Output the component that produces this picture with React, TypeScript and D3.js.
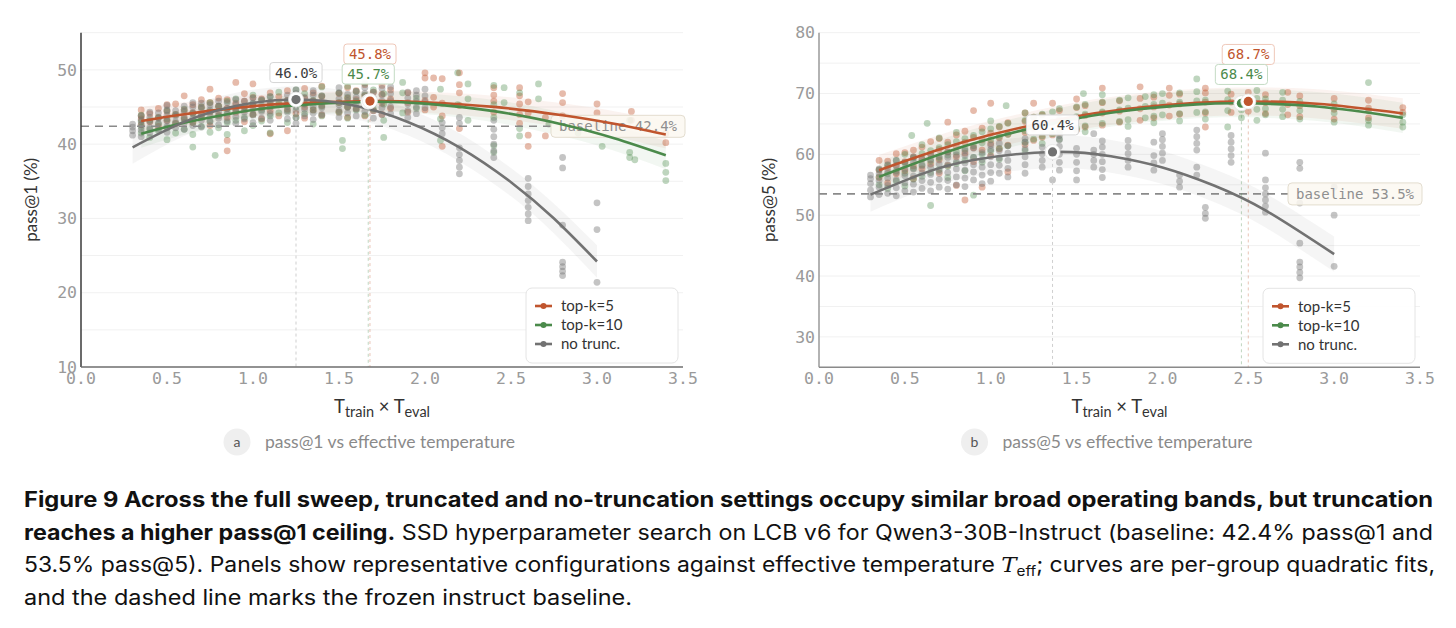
import React from 'react';
import * as d3 from 'd3';

type Column = [number, number[]];
type FitPt = [number, number, number]; // x, fitted value, band half-width

const xTicks = [0, 0.5, 1, 1.5, 2, 2.5, 3, 3.5];
const seriesNames = ['top-k=5', 'top-k=10', 'no trunc.'];
const seriesColors = ['#c0552e', '#4b8a4b', '#727272'];
const labelBorders = ['#efc8b9', '#c4dbc4', '#d6d6d6'];
const labelText = ['#c0552e', '#4b8a4b', '#3d3d3d'];

// ---------- Panel a: pass@1 ----------
const aYTicks = [10, 20, 30, 40, 50];
const aBaseline = 42.4;

const aTopK5: Column[] = [
  [0.35, [42.6, 43.4, 43.8, 44.6]], [0.4, [43.0, 44.1]], [0.45, [42.4, 43.6, 44.8]],
  [0.5, [43.2, 44.4, 45.3]], [0.55, [42.8, 44.0, 45.4]], [0.6, [43.5, 44.6, 46.5]],
  [0.65, [42.9, 44.2, 45.3]], [0.7, [43.8, 45.0, 46.0]], [0.75, [42.5, 44.3, 45.6, 47.4]],
  [0.8, [43.9, 45.1, 46.2]], [0.85, [39.1, 40.5, 43.6, 44.8, 46.0]], [0.9, [44.3, 45.5, 48.3]],
  [0.95, [43.0, 44.6, 45.8, 46.8]], [1.0, [44.0, 45.2, 46.3, 48.1]], [1.05, [43.4, 44.9, 46.1]],
  [1.1, [41.4, 44.5, 45.6, 46.9]], [1.15, [43.8, 45.3, 46.4]], [1.2, [41.8, 44.7, 45.9, 47.2]],
  [1.25, [44.1, 45.4, 46.6]], [1.3, [43.5, 45.0, 46.2, 47.5]], [1.35, [44.6, 45.8, 46.9]],
  [1.4, [43.9, 45.2, 46.4, 47.8]], [1.5, [44.3, 45.6, 46.8]], [1.55, [43.6, 45.0, 46.2, 47.6]],
  [1.6, [44.8, 46.0, 47.2]], [1.65, [43.8, 45.3, 46.5, 48.0]], [1.7, [44.5, 45.8, 47.0]],
  [1.75, [44.0, 45.5, 46.7, 47.9]], [1.8, [44.8, 46.1, 47.3]], [1.9, [44.3, 45.6, 46.9]],
  [2.0, [44.6, 45.9, 48.9, 49.6]], [2.05, [45.0, 46.3, 48.9]], [2.1, [39.7, 43.8, 45.5, 48.8]],
  [2.2, [42.1, 45.2, 46.9, 48.0, 49.6]], [2.4, [44.3, 45.8, 46.6, 47.6]],
  [2.55, [42.8, 44.0, 45.4, 46.5, 47.6]], [2.6, [39.7, 41.2, 44.2, 45.7]], [2.7, [41.1, 43.6]],
  [2.8, [43.8, 45.6, 46.8]], [3.0, [42.5, 44.2, 45.4]], [3.2, [43.2, 44.4]], [3.4, [40.2, 41.4]],
];

const aTopK10: Column[] = [
  [0.35, [41.5, 42.3, 43.0, 43.9]], [0.4, [40.9, 42.0, 43.2]], [0.45, [41.8, 42.7, 43.6]],
  [0.5, [40.6, 42.2, 43.4, 44.5]], [0.55, [41.5, 42.8, 44.0]], [0.6, [42.0, 43.3, 44.7]],
  [0.65, [39.6, 41.3, 42.9, 44.1]], [0.7, [42.4, 43.6, 45.0]], [0.75, [41.6, 43.1, 44.4, 45.6]],
  [0.78, [38.5]], [0.8, [42.2, 43.8, 45.1]], [0.85, [41.3, 42.9, 44.4, 45.8]],
  [0.9, [43.2, 44.7, 46.1]], [0.95, [41.8, 43.6, 45.0]], [1.0, [42.5, 44.0, 45.4, 46.6]],
  [1.05, [43.1, 44.6, 45.9]], [1.1, [41.5, 43.8, 45.2, 46.4]], [1.15, [44.2, 45.5, 47.0]],
  [1.2, [42.9, 44.5, 45.8]], [1.25, [43.6, 45.0, 46.3, 47.3]], [1.3, [44.1, 45.4, 46.8]],
  [1.35, [42.7, 44.6, 45.9]], [1.4, [43.8, 45.1, 46.5, 47.7]], [1.5, [44.3, 45.6, 46.9]],
  [1.52, [39.4, 40.5]], [1.55, [43.5, 45.0, 46.3, 47.8]], [1.6, [44.6, 45.8, 47.1]],
  [1.65, [43.9, 45.3, 46.6, 48.2]], [1.7, [44.7, 46.0, 47.3]], [1.76, [40.9, 43.2, 45.4, 46.8]],
  [1.87, [44.2, 46.9, 48.3]], [1.95, [44.8, 46.2]], [2.09, [40.5, 43.4, 47.4]],
  [2.19, [45.3, 49.6]], [2.25, [43.2, 46.1, 48.1]], [2.4, [38.9, 39.8, 43.6, 45.3, 47.9]],
  [2.46, [45.6, 47.6]], [2.55, [41.1, 42.1, 46.9]], [2.66, [46.1, 48.1]], [2.72, [42.7]],
  [2.89, [41.5]], [3.03, [39.7]], [3.19, [38.2, 38.9, 43.2]], [3.22, [37.9]],
  [3.4, [35.1, 36.2, 37.4]],
];

const aNoTrunc: Column[] = [
  [0.3, [41.2, 41.8, 42.3, 42.7]], [0.35, [41.0, 41.9, 42.6, 43.2, 43.8]],
  [0.4, [41.5, 42.2, 43.0, 43.6, 44.3]], [0.45, [42.0, 42.8, 43.5, 44.2]],
  [0.5, [41.6, 42.4, 43.1, 43.9, 44.6, 45.2]], [0.55, [42.2, 43.0, 43.8, 44.5]],
  [0.6, [42.0, 42.9, 43.6, 44.4, 45.1]], [0.65, [42.5, 43.4, 44.2, 45.0, 45.6]],
  [0.7, [42.3, 43.2, 44.0, 44.8, 45.5]], [0.75, [43.0, 43.8, 44.6, 45.3]],
  [0.8, [42.6, 43.5, 44.3, 45.1, 45.8]], [0.85, [43.1, 44.0, 44.8, 45.6]],
  [0.9, [42.8, 43.7, 44.5, 45.3, 46.0]], [0.95, [43.4, 44.3, 45.1, 45.8]],
  [1.0, [42.9, 43.9, 44.7, 45.5, 46.2]], [1.05, [43.5, 44.4, 45.2, 46.0]],
  [1.1, [43.2, 44.1, 45.0, 45.7, 46.4]], [1.2, [43.4, 44.3, 45.1, 45.9, 46.6]],
  [1.25, [42.8, 43.6, 44.5, 45.3, 46.1, 46.8, 47.3]], [1.3, [43.8, 44.7, 45.5, 46.3]],
  [1.35, [43.3, 44.2, 45.0, 45.8, 46.6, 47.2]], [1.4, [44.0, 44.9, 45.7, 46.5]],
  [1.5, [43.6, 44.5, 45.3, 46.1, 46.9, 47.6]], [1.55, [44.2, 45.0, 45.9, 46.7]],
  [1.6, [43.8, 44.7, 45.5, 46.3, 47.1]], [1.65, [44.4, 45.2, 46.0, 46.8, 47.6]],
  [1.7, [43.5, 44.5, 45.4, 46.2, 47.0]], [1.75, [44.0, 44.9, 45.8, 46.6, 47.5]],
  [1.8, [44.1, 45.0, 45.9, 46.8, 47.7]], [1.9, [43.6, 44.5, 45.4, 46.2, 47.0]],
  [1.95, [44.1, 45.0, 45.8, 46.6, 47.2]], [2.0, [44.9, 45.7, 46.5, 47.4]],
  [2.1, [41.4, 42.2, 42.9]], [2.2, [36.0, 36.9, 37.8, 38.6, 39.5, 42.8, 43.6]],
  [2.4, [38.2, 39.1, 40.0, 41.0, 42.0, 43.2]], [2.6, [29.7, 30.6, 31.5, 32.4, 33.3, 34.3, 35.4]],
  [2.8, [22.3, 22.9, 23.5, 24.1, 29.1, 36.8, 38.2]], [3.0, [21.4, 28.5, 32.1]],
];

const aFitTopK5: FitPt[] = [
  [0.35, 43.11, 1.9], [0.6, 44.03, 1.6], [0.9, 44.88, 1.5], [1.2, 45.45, 1.4], [1.68, 45.8, 1.4],
  [2.0, 45.64, 1.4], [2.4, 45.01, 1.5], [2.8, 43.89, 1.6], [3.1, 42.74, 1.7], [3.4, 41.3, 1.9],
];
const aFitTopK10: FitPt[] = [
  [0.35, 41.4, 1.9], [0.6, 42.87, 1.6], [0.9, 44.22, 1.5], [1.2, 45.14, 1.4], [1.68, 45.7, 1.4],
  [2.0, 45.45, 1.4], [2.4, 44.44, 1.5], [2.8, 42.65, 1.6], [3.1, 40.8, 1.7], [3.4, 38.51, 1.9],
];
const aFitNoTrunc: FitPt[] = [
  [0.3, 39.57, 2.2], [0.6, 42.99, 1.9], [0.9, 45.13, 1.8], [1.25, 46.0, 1.8], [1.6, 45.13, 1.8],
  [1.9, 42.99, 1.8], [2.2, 39.57, 1.9], [2.5, 34.88, 1.9], [2.75, 29.98, 2.0], [3.0, 24.2, 2.2],
];
const aPeakX = [1.68, 1.67, 1.25];
const aPeakY = [45.8, 45.7, 46.0];

// ---------- Panel b: pass@5 ----------
const bYTicks = [30, 40, 50, 60, 70, 80];
const bBaseline = 53.5;

const bTopK5: Column[] = [
  [0.35, [56.2, 57.4, 59.0]], [0.4, [55.3, 57.8, 58.9]], [0.45, [56.8, 58.2, 60.1]],
  [0.5, [57.3, 58.8, 60.3]], [0.55, [56.0, 58.1, 59.6, 60.7]], [0.6, [57.6, 59.3, 61.2]],
  [0.65, [58.4, 60.0, 62.1]], [0.7, [56.9, 59.1, 60.8, 62.6]], [0.75, [58.2, 60.4, 62.0, 65.3]],
  [0.8, [54.9, 59.6, 61.3, 63.2]], [0.85, [52.5, 60.2, 62.0, 63.8]], [0.9, [58.8, 61.1, 62.8, 67.2]],
  [0.95, [54.6, 60.7, 62.4, 64.3]], [1.0, [59.8, 61.8, 63.5, 68.4]], [1.05, [60.9, 62.7, 64.5]],
  [1.1, [57.1, 61.5, 63.3, 65.2]], [1.2, [61.6, 63.6, 65.4, 66.8]], [1.25, [62.3, 64.2, 66.1, 68.4]],
  [1.3, [62.8, 64.8, 66.5]], [1.36, [63.2, 65.3, 68.4]], [1.4, [63.6, 65.6, 67.2]],
  [1.5, [64.0, 66.0, 67.7, 69.1]], [1.55, [64.5, 66.4, 68.0]], [1.65, [64.8, 66.8, 68.5, 70.9]],
  [1.75, [65.3, 67.1, 68.8]], [1.87, [65.6, 67.5, 69.2, 71.1]], [1.95, [66.0, 67.8, 69.4]],
  [2.04, [66.3, 68.1, 69.7, 70.9]], [2.1, [66.6, 68.3, 69.9]], [2.25, [64.5, 66.8, 68.6, 70.1, 70.9]],
  [2.4, [66.9, 68.6, 69.9]], [2.5, [67.1, 68.8, 70.2]], [2.6, [66.7, 68.5, 69.8]],
  [2.73, [66.5, 68.2, 70.2]], [2.8, [66.2, 68.0, 69.6]], [3.0, [65.8, 67.4, 69.2]],
  [3.2, [66.0, 67.6, 68.9]], [3.4, [66.9, 67.7]],
];

const bTopK10: Column[] = [
  [0.35, [55.0, 56.3, 57.5]], [0.4, [54.4, 56.8, 58.2]], [0.45, [55.6, 57.3, 59.0]],
  [0.5, [54.8, 56.9, 58.6, 60.0]], [0.54, [63.1]], [0.55, [55.9, 57.7, 59.4]],
  [0.6, [56.4, 58.3, 60.1, 61.6]], [0.63, [65.1]], [0.65, [51.6, 57.0, 58.9, 60.6]],
  [0.7, [57.5, 59.4, 61.1, 62.7]], [0.75, [56.2, 58.0, 59.9, 61.6]], [0.8, [58.5, 60.4, 62.1, 63.6]],
  [0.85, [57.3, 59.0, 60.9, 62.6]], [0.9, [53.3, 59.5, 61.4, 63.1]], [0.95, [58.7, 60.0, 61.9, 63.7]],
  [1.0, [60.5, 62.4, 64.2, 65.5]], [1.05, [59.2, 61.0, 62.9, 64.6]], [1.09, [68.0]],
  [1.1, [61.4, 63.3, 65.1]], [1.2, [60.6, 62.0, 63.9, 65.6, 66.8]], [1.25, [62.5, 64.4, 66.1]],
  [1.3, [61.8, 63.0, 64.9, 66.6]], [1.36, [63.4, 65.3, 67.0]], [1.4, [62.5, 63.9, 65.8, 67.5]],
  [1.5, [64.3, 66.2, 67.8]], [1.54, [70.0]], [1.55, [63.7, 64.7, 66.6, 68.2]],
  [1.65, [65.1, 67.0, 68.6, 69.8]], [1.75, [65.4, 67.3, 68.9]], [1.8, [64.6, 65.7, 67.6, 69.3]],
  [1.9, [66.0, 67.9, 69.5]], [1.95, [65.2, 66.3, 68.2, 69.8]], [2.0, [66.5, 68.4, 70.0]],
  [2.1, [65.5, 66.7, 68.6, 70.1]], [2.2, [66.9, 68.8, 70.3, 72.4]], [2.25, [65.8, 67.0, 68.9]],
  [2.38, [64.5, 67.2, 69.0, 70.4]], [2.46, [66.0, 67.3, 69.1]], [2.55, [65.6, 67.4, 69.2, 70.5]],
  [2.6, [66.5, 67.5, 69.1]], [2.7, [66.2, 67.4, 68.9, 70.2]], [2.8, [65.8, 67.2, 68.7]],
  [3.0, [65.3, 66.8, 68.3]], [3.2, [64.8, 65.6, 67.2, 71.8]], [3.4, [64.5, 65.3, 66.5]],
];

const bNoTrunc: Column[] = [
  [0.3, [53.0, 54.1, 55.2, 56.0, 56.6]], [0.35, [53.4, 54.6, 55.7, 56.8, 57.6]],
  [0.4, [53.6, 54.9, 56.1, 57.2, 58.3]], [0.45, [53.2, 54.5, 55.8, 57.0, 58.1, 59.0]],
  [0.5, [54.0, 55.3, 56.5, 57.6, 58.7]], [0.55, [53.8, 55.1, 56.4, 57.6, 58.8, 59.6]],
  [0.6, [54.4, 55.7, 56.9, 58.1, 59.2]], [0.65, [54.0, 55.4, 56.7, 57.9, 59.1, 60.0]],
  [0.7, [54.6, 55.9, 57.2, 58.4, 59.6]], [0.75, [54.3, 55.7, 57.0, 58.3, 59.5, 60.4]],
  [0.8, [55.0, 56.3, 57.6, 58.8, 59.9]], [0.85, [54.7, 56.1, 57.4, 58.6, 59.8, 60.6]],
  [0.9, [55.8, 57.1, 58.3, 59.5, 61.0]], [0.95, [55.2, 56.6, 57.9, 59.1, 60.3]],
  [1.0, [55.6, 57.0, 58.3, 59.6, 60.8, 61.5]], [1.05, [56.9, 58.2, 59.4, 60.6, 61.8]],
  [1.1, [56.3, 57.7, 59.0, 60.2, 61.4]], [1.2, [56.9, 58.3, 59.6, 60.9, 62.0, 62.6]],
  [1.3, [57.9, 59.0, 60.1, 61.2]], [1.36, [55.8]], [1.4, [57.4, 58.7, 60.0, 61.3, 62.4, 63.1]],
  [1.5, [55.8, 57.3, 58.7, 60.0, 61.0]], [1.6, [57.9, 59.0, 60.0, 60.7, 63.4]],
  [1.65, [56.2, 57.5, 58.8, 60.0, 61.2, 62.2]], [1.8, [57.9, 59.0, 60.1, 61.2, 62.3]],
  [1.95, [57.4, 58.6, 59.8, 62.0]], [2.0, [59.0, 60.2, 61.3, 62.4, 63.4]],
  [2.1, [54.6, 55.6, 56.6]], [2.2, [56.6, 57.9, 60.7, 61.8, 62.9, 64.0]], [2.25, [49.5, 50.3, 51.3]],
  [2.4, [58.7, 59.8, 60.9, 62.0, 63.1]], [2.6, [50.5, 51.5, 52.5, 53.5, 54.5, 55.8, 60.2]],
  [2.8, [39.7, 40.6, 41.5, 42.3, 45.4, 52.0, 57.7, 58.7]], [3.0, [41.6, 50.0, 54.6]],
];

const bFitTopK5: FitPt[] = [
  [0.35, 57.4, 2.5], [0.7, 60.79, 2.4], [1.0, 63.21, 2.3], [1.4, 65.75, 2.3], [1.8, 67.5, 2.3],
  [2.2, 68.48, 2.3], [2.5, 68.7, 2.3], [2.9, 68.31, 2.4], [3.4, 66.72, 2.5],
];
const bFitTopK10: FitPt[] = [
  [0.35, 56.3, 2.5], [0.7, 59.97, 2.4], [1.0, 62.6, 2.3], [1.4, 65.34, 2.3], [1.8, 67.22, 2.3],
  [2.2, 68.22, 2.3], [2.46, 68.4, 2.3], [2.9, 67.87, 2.4], [3.4, 66.0, 2.5],
];
const bFitNoTrunc: FitPt[] = [
  [0.3, 53.38, 2.8], [0.6, 56.79, 2.7], [0.9, 59.08, 2.7], [1.36, 60.4, 2.7], [1.7, 59.68, 2.7],
  [2.0, 57.84, 2.7], [2.3, 54.88, 2.7], [2.6, 50.79, 2.8], [3.0, 43.59, 2.9],
];
const bPeakX = [2.5, 2.46, 1.36];
const bPeakY = [68.7, 68.4, 60.4];

const MONO = '"DejaVu Sans Mono", "Liberation Mono", monospace';
const SANS = 'Lato, "Noto Sans", sans-serif';
const CAPTION = 'Inter, "Noto Sans", sans-serif';

const fmtTick = d3.format('.1f');
const fmtPct = (v: number) => `${d3.format('.1f')(v)}%`;

interface PanelProps {
  left: number;
  right: number;
  top: number;
  bottom: number;
  yDomain: [number, number];
  yTicks: number[];
  yTitle: string;
  baseline: number;
  points: Column[][];
  fits: FitPt[][];
  peakX: number[];
  peakY: number[];
  leftAxisColor: string;
  bottomAxisColor: string;
  badge: string;
  subtitle: string;
}

function Panel(p: PanelProps) {
  const x = d3.scaleLinear().domain([0, 3.5]).range([p.left, p.right]);
  const y = d3.scaleLinear().domain(p.yDomain).range([p.bottom, p.top]);
  const grid = d3.range(p.yDomain[0] + 5, p.yDomain[1] + 0.01, 5);

  const band = d3
    .area<FitPt>()
    .x((d) => x(d[0]))
    .y0((d) => y(d[1] - d[2]))
    .y1((d) => y(d[1] + d[2]))
    .curve(d3.curveNatural);
  const line = d3
    .line<FitPt>()
    .x((d) => x(d[0]))
    .y((d) => y(d[1]))
    .curve(d3.curveNatural);

  const cx = (p.left + p.right) / 2;
  const cy = (p.top + p.bottom) / 2;

  // baseline label box
  const blText = `baseline ${d3.format('.1f')(p.baseline)}%`;
  const blFont = 14;
  const blW = blText.length * blFont * 0.602 + 16;
  const blH = 22;
  const blRight = p.right + 2;
  const blY = y(p.baseline);

  // peak label geometry
  const labH = 20;
  const labFont = 14;
  const pairTop = Math.min(y(p.peakY[0]), y(p.peakY[1])) - 17 - labH;
  const labTops = [pairTop - labH, pairTop, y(p.peakY[2]) - 17 - labH];

  const legX = p.right - 157;
  const legY = p.bottom - 79;

  const pointOpacity = [0.4, 0.36, 0.42];

  return (
    <g>
      {/* horizontal grid */}
      {grid.map((g) => (
        <line key={`g${g}`} x1={p.left} x2={p.right} y1={y(g)} y2={y(g)} stroke="#f1f1f1" strokeWidth={1} />
      ))}

      {/* fit uncertainty bands */}
      {p.fits.map((f, i) => (
        <path key={`b${i}`} d={band(f) || ''} fill={seriesColors[i]} fillOpacity={0.07} />
      ))}

      {/* scatter of individual configurations */}
      {p.points.map((cols, i) => (
        <g key={`p${i}`} fill={seriesColors[i]} fillOpacity={pointOpacity[i]}>
          {cols.flatMap(([cxv, ys]) =>
            ys.map((v, j) => <circle key={`${cxv}-${j}`} cx={x(cxv)} cy={y(v)} r={3.4} />)
          )}
        </g>
      ))}

      {/* frozen baseline */}
      <line
        x1={p.left}
        x2={blRight - blW}
        y1={blY}
        y2={blY}
        stroke="#8a8a8a"
        strokeWidth={1.6}
        strokeDasharray="8,6"
      />
      <rect
        x={blRight - blW}
        y={blY - blH / 2}
        width={blW}
        height={blH}
        rx={4}
        fill="#fbf8f1"
        fillOpacity={0.85}
        stroke="#e3ddcf"
      />
      <text
        x={blRight - blW + 8}
        y={blY}
        dy="0.35em"
        fontFamily={MONO}
        fontSize={blFont}
        fill="#8f8f8f"
      >
        {blText}
      </text>

      {/* vertical guides from each peak */}
      {p.peakX.map((px, i) => (
        <line
          key={`v${i}`}
          x1={x(px)}
          x2={x(px)}
          y1={y(p.peakY[i])}
          y2={p.bottom}
          stroke={i === 2 ? '#cfcfcf' : seriesColors[i]}
          strokeOpacity={i === 2 ? 1 : 0.35}
          strokeWidth={1}
          strokeDasharray="3,3"
        />
      ))}

      {/* fitted curves */}
      {p.fits.map((f, i) => (
        <path key={`l${i}`} d={line(f) || ''} fill="none" stroke={seriesColors[i]} strokeWidth={2.6} />
      ))}

      {/* peak markers: green first so top-k=5 sits on top */}
      {[2, 1, 0].map((i) => (
        <g key={`m${i}`}>
          <circle cx={x(p.peakX[i])} cy={y(p.peakY[i])} r={7.5} fill="#fff" stroke="#e6e6e6" strokeWidth={0.8} />
          <circle cx={x(p.peakX[i])} cy={y(p.peakY[i])} r={4.6} fill={seriesColors[i]} />
        </g>
      ))}

      {/* peak value labels */}
      {[0, 1, 2].map((i) => {
        const t = fmtPct(p.peakY[i]);
        const w = t.length * labFont * 0.602 + 10;
        const lx = x(p.peakX[i]);
        return (
          <g key={`t${i}`}>
            <rect
              x={lx - w / 2}
              y={labTops[i]}
              width={w}
              height={labH}
              rx={3}
              fill="#fff"
              fillOpacity={0.95}
              stroke={labelBorders[i]}
            />
            <text
              x={lx}
              y={labTops[i] + labH / 2}
              dy="0.36em"
              textAnchor="middle"
              fontFamily={MONO}
              fontSize={labFont}
              fill={labelText[i]}
            >
              {t}
            </text>
          </g>
        );
      })}

      {/* axes */}
      <line x1={p.left} x2={p.left} y1={p.top} y2={p.bottom} stroke={p.leftAxisColor} strokeWidth={1.5} />
      <line x1={p.left} x2={p.right} y1={p.bottom} y2={p.bottom} stroke={p.bottomAxisColor} strokeWidth={1.5} />
      {p.yTicks.map((t) => (
        <text
          key={`yt${t}`}
          x={p.left - 4}
          y={y(t)}
          dy="0.35em"
          textAnchor="end"
          fontFamily={MONO}
          fontSize={16.5}
          fill="#9a9a9a"
        >
          {t}
        </text>
      ))}
      {xTicks.map((t) => (
        <text
          key={`xt${t}`}
          x={x(t)}
          y={p.bottom + 17}
          textAnchor="middle"
          fontFamily={MONO}
          fontSize={16.5}
          fill="#9a9a9a"
        >
          {fmtTick(t)}
        </text>
      ))}

      {/* axis titles */}
      <text x={cx} y={p.bottom + 46} textAnchor="middle" fontFamily={SANS} fontSize={18.5} fill="#333">
        T
        <tspan fontSize={14.5} dy={4}>
          train
        </tspan>
        <tspan dy={-4}> × T</tspan>
        <tspan fontSize={14.5} dy={4}>
          eval
        </tspan>
      </text>
      <text
        transform={`translate(${p.left - 44},${cy}) rotate(-90)`}
        textAnchor="middle"
        fontFamily={SANS}
        fontSize={17}
        fill="#333"
      >
        {p.yTitle}
      </text>

      {/* legend */}
      <rect x={legX} y={legY} width={152} height={75} rx={6} fill="#fff" fillOpacity={0.92} stroke="#e4e4e4" />
      {seriesNames.map((n, i) => (
        <g key={`lg${i}`}>
          <line
            x1={legX + 9}
            x2={legX + 26}
            y1={legY + 18 + i * 19}
            y2={legY + 18 + i * 19}
            stroke={seriesColors[i]}
            strokeWidth={2.6}
          />
          <circle cx={legX + 17.5} cy={legY + 18 + i * 19} r={3} fill={seriesColors[i]} />
          <text x={legX + 35} y={legY + 18 + i * 19} dy="0.35em" fontFamily={SANS} fontSize={15} fill="#333">
            {n}
          </text>
        </g>
      ))}

      {/* sub-panel caption */}
      <circle cx={cx - 145} cy={442} r={13.5} fill="#efefef" />
      <text x={cx - 145} y={442} dy="0.35em" textAnchor="middle" fontFamily={SANS} fontSize={14} fill="#555">
        {p.badge}
      </text>
      <text
        x={cx - 117}
        y={442}
        dy="0.35em"
        fontFamily={SANS}
        fontSize={17}
        fill="#8a8a8a"
        textLength={250}
        lengthAdjust="spacingAndGlyphs"
      >
        {p.subtitle}
      </text>
    </g>
  );
}

export default function App() {
  return (
    <svg
      width={1456}
      height={628}
      viewBox="0 0 1456 628"
      style={{ position: 'absolute', left: 0, top: 0, background: '#fff' }}
    >
      <rect width={1456} height={628} fill="#fff" />
      <Panel
        left={81}
        right={683}
        top={32.7}
        bottom={367}
        yDomain={[10, 55]}
        yTicks={aYTicks}
        yTitle="pass@1 (%)"
        baseline={aBaseline}
        points={[aTopK5, aTopK10, aNoTrunc]}
        fits={[aFitTopK5, aFitTopK10, aFitNoTrunc]}
        peakX={aPeakX}
        peakY={aPeakY}
        leftAxisColor="#3a3a3a"
        bottomAxisColor="#6e6e6e"
        badge="a"
        subtitle="pass@1 vs effective temperature"
      />
      <Panel
        left={819}
        right={1420}
        top={32.7}
        bottom={367.3}
        yDomain={[25, 80]}
        yTicks={bYTicks}
        yTitle="pass@5 (%)"
        baseline={bBaseline}
        points={[bTopK5, bTopK10, bNoTrunc]}
        fits={[bFitTopK5, bFitTopK10, bFitNoTrunc]}
        peakX={bPeakX}
        peakY={bPeakY}
        leftAxisColor="#9a9a9a"
        bottomAxisColor="#8a8a8a"
        badge="b"
        subtitle="pass@5 vs effective temperature"
      />

      {/* figure caption */}
      <g fontFamily={CAPTION} fontSize={21} fill="#111">
        <text x={24} y={507} textLength={1409} lengthAdjust="spacingAndGlyphs" fontWeight={700}>
          Figure 9  Across the full sweep, truncated and no-truncation settings occupy similar broad operating bands, but truncation
        </text>
        <text x={24} y={540} textLength={1409} lengthAdjust="spacingAndGlyphs">
          <tspan fontWeight={700}>reaches a higher pass@1 ceiling.</tspan> SSD hyperparameter search on LCB v6 for
          Qwen3-30B-Instruct (baseline: 42.4% pass@1 and
        </text>
        <text x={24} y={572} textLength={1411} lengthAdjust="spacingAndGlyphs">
          53.5% pass@5). Panels show representative configurations against effective temperature{' '}
          <tspan fontFamily="'DejaVu Serif', 'Liberation Serif', serif" fontStyle="italic">
            T
          </tspan>
          <tspan fontSize={14} dy={4}>
            eff
          </tspan>
          <tspan dy={-4}>; curves are per-group quadratic fits,</tspan>
        </text>
        <text x={24} y={605} textLength={608} lengthAdjust="spacingAndGlyphs">
          and the dashed line marks the frozen instruct baseline.
        </text>
      </g>
    </svg>
  );
}
